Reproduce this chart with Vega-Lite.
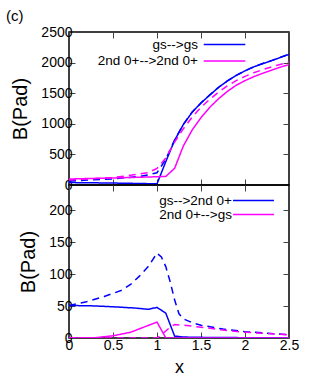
{
  "$schema": "https://vega.github.io/schema/vega-lite/v6.json",
  "padding": {"left": 6, "top": 9, "right": 5, "bottom": 5},
  "title": {"text": "(c)", "anchor": "start", "frame": "bounds", "fontSize": 15, "font": "Liberation Sans", "fontWeight": "normal", "offset": 0, "dx": -4},
  "config": {
    "view": {"stroke": "black", "strokeWidth": 1.5},
    "axis": {"labelFont": "Liberation Sans", "labelFontSize": 14, "labelColor": "black", "titleFont": "Liberation Sans", "titleFontWeight": "normal", "titleColor": "black", "domain": false, "grid": false, "tickColor": "#444", "tickWidth": 1, "tickSize": -6},
    "legend": {"labelFont": "Liberation Sans", "labelColor": "black"}
  },
  "datasets": {
    "top": [
      {"series": "gs-->gs", "style": "solid", "x": 0, "y": 40},
      {"series": "gs-->gs", "style": "solid", "x": 0.5, "y": 32},
      {"series": "gs-->gs", "style": "solid", "x": 0.9, "y": 22},
      {"series": "gs-->gs", "style": "solid", "x": 1.0, "y": 18},
      {"series": "gs-->gs", "style": "solid", "x": 1.1, "y": 382},
      {"series": "gs-->gs", "style": "solid", "x": 1.2, "y": 730},
      {"series": "gs-->gs", "style": "solid", "x": 1.3, "y": 990},
      {"series": "gs-->gs", "style": "solid", "x": 1.4, "y": 1190},
      {"series": "gs-->gs", "style": "solid", "x": 1.5, "y": 1340},
      {"series": "gs-->gs", "style": "solid", "x": 1.6, "y": 1470},
      {"series": "gs-->gs", "style": "solid", "x": 1.7, "y": 1595},
      {"series": "gs-->gs", "style": "solid", "x": 1.8, "y": 1700},
      {"series": "gs-->gs", "style": "solid", "x": 1.9, "y": 1790},
      {"series": "gs-->gs", "style": "solid", "x": 2.0, "y": 1865},
      {"series": "gs-->gs", "style": "solid", "x": 2.1, "y": 1930},
      {"series": "gs-->gs", "style": "solid", "x": 2.2, "y": 1982},
      {"series": "gs-->gs", "style": "solid", "x": 2.3, "y": 2030},
      {"series": "gs-->gs", "style": "solid", "x": 2.4, "y": 2083},
      {"series": "gs-->gs", "style": "solid", "x": 2.5, "y": 2135},
      {"series": "gs-->gs", "style": "dashed", "x": 0, "y": 65},
      {"series": "gs-->gs", "style": "dashed", "x": 0.5, "y": 100},
      {"series": "gs-->gs", "style": "dashed", "x": 0.8, "y": 140},
      {"series": "gs-->gs", "style": "dashed", "x": 0.9, "y": 165},
      {"series": "gs-->gs", "style": "dashed", "x": 1.0, "y": 200},
      {"series": "gs-->gs", "style": "dashed", "x": 1.1, "y": 420},
      {"series": "gs-->gs", "style": "dashed", "x": 1.2, "y": 735},
      {"series": "gs-->gs", "style": "dashed", "x": 1.3, "y": 992},
      {"series": "gs-->gs", "style": "dashed", "x": 1.4, "y": 1192},
      {"series": "gs-->gs", "style": "dashed", "x": 1.5, "y": 1342},
      {"series": "gs-->gs", "style": "dashed", "x": 1.6, "y": 1472},
      {"series": "gs-->gs", "style": "dashed", "x": 1.7, "y": 1597},
      {"series": "gs-->gs", "style": "dashed", "x": 1.8, "y": 1702},
      {"series": "gs-->gs", "style": "dashed", "x": 1.9, "y": 1792},
      {"series": "gs-->gs", "style": "dashed", "x": 2.0, "y": 1867},
      {"series": "gs-->gs", "style": "dashed", "x": 2.1, "y": 1932},
      {"series": "gs-->gs", "style": "dashed", "x": 2.2, "y": 1984},
      {"series": "gs-->gs", "style": "dashed", "x": 2.3, "y": 2032},
      {"series": "gs-->gs", "style": "dashed", "x": 2.4, "y": 2085},
      {"series": "gs-->gs", "style": "dashed", "x": 2.5, "y": 2137},
      {"series": "2nd 0+-->2nd 0+", "style": "solid", "x": 0, "y": 98},
      {"series": "2nd 0+-->2nd 0+", "style": "solid", "x": 0.5, "y": 115},
      {"series": "2nd 0+-->2nd 0+", "style": "solid", "x": 1.0, "y": 135},
      {"series": "2nd 0+-->2nd 0+", "style": "solid", "x": 1.1, "y": 140},
      {"series": "2nd 0+-->2nd 0+", "style": "solid", "x": 1.2, "y": 272},
      {"series": "2nd 0+-->2nd 0+", "style": "solid", "x": 1.3, "y": 640},
      {"series": "2nd 0+-->2nd 0+", "style": "solid", "x": 1.4, "y": 900},
      {"series": "2nd 0+-->2nd 0+", "style": "solid", "x": 1.5, "y": 1100},
      {"series": "2nd 0+-->2nd 0+", "style": "solid", "x": 1.6, "y": 1270},
      {"series": "2nd 0+-->2nd 0+", "style": "solid", "x": 1.7, "y": 1410},
      {"series": "2nd 0+-->2nd 0+", "style": "solid", "x": 1.8, "y": 1530},
      {"series": "2nd 0+-->2nd 0+", "style": "solid", "x": 1.9, "y": 1630},
      {"series": "2nd 0+-->2nd 0+", "style": "solid", "x": 2.0, "y": 1705},
      {"series": "2nd 0+-->2nd 0+", "style": "solid", "x": 2.1, "y": 1770},
      {"series": "2nd 0+-->2nd 0+", "style": "solid", "x": 2.2, "y": 1825},
      {"series": "2nd 0+-->2nd 0+", "style": "solid", "x": 2.3, "y": 1875},
      {"series": "2nd 0+-->2nd 0+", "style": "solid", "x": 2.4, "y": 1925},
      {"series": "2nd 0+-->2nd 0+", "style": "solid", "x": 2.5, "y": 1968},
      {"series": "2nd 0+-->2nd 0+", "style": "dashed", "x": 0, "y": 82},
      {"series": "2nd 0+-->2nd 0+", "style": "dashed", "x": 0.5, "y": 120},
      {"series": "2nd 0+-->2nd 0+", "style": "dashed", "x": 0.9, "y": 200},
      {"series": "2nd 0+-->2nd 0+", "style": "dashed", "x": 1.0, "y": 272},
      {"series": "2nd 0+-->2nd 0+", "style": "dashed", "x": 1.1, "y": 440},
      {"series": "2nd 0+-->2nd 0+", "style": "dashed", "x": 1.2, "y": 700},
      {"series": "2nd 0+-->2nd 0+", "style": "dashed", "x": 1.3, "y": 920},
      {"series": "2nd 0+-->2nd 0+", "style": "dashed", "x": 1.4, "y": 1110},
      {"series": "2nd 0+-->2nd 0+", "style": "dashed", "x": 1.5, "y": 1270},
      {"series": "2nd 0+-->2nd 0+", "style": "dashed", "x": 1.6, "y": 1400},
      {"series": "2nd 0+-->2nd 0+", "style": "dashed", "x": 1.7, "y": 1520},
      {"series": "2nd 0+-->2nd 0+", "style": "dashed", "x": 1.8, "y": 1620},
      {"series": "2nd 0+-->2nd 0+", "style": "dashed", "x": 1.9, "y": 1705},
      {"series": "2nd 0+-->2nd 0+", "style": "dashed", "x": 2.0, "y": 1775},
      {"series": "2nd 0+-->2nd 0+", "style": "dashed", "x": 2.1, "y": 1835},
      {"series": "2nd 0+-->2nd 0+", "style": "dashed", "x": 2.2, "y": 1885},
      {"series": "2nd 0+-->2nd 0+", "style": "dashed", "x": 2.3, "y": 1930},
      {"series": "2nd 0+-->2nd 0+", "style": "dashed", "x": 2.4, "y": 1970},
      {"series": "2nd 0+-->2nd 0+", "style": "dashed", "x": 2.5, "y": 2010}
    ],
    "bottom": [
      {"series": "gs-->2nd 0+", "style": "solid", "x": 0, "y": 51},
      {"series": "gs-->2nd 0+", "style": "solid", "x": 0.25, "y": 50.5},
      {"series": "gs-->2nd 0+", "style": "solid", "x": 0.5, "y": 49},
      {"series": "gs-->2nd 0+", "style": "solid", "x": 0.75, "y": 47},
      {"series": "gs-->2nd 0+", "style": "solid", "x": 0.9, "y": 45},
      {"series": "gs-->2nd 0+", "style": "solid", "x": 1.0, "y": 48},
      {"series": "gs-->2nd 0+", "style": "solid", "x": 1.1, "y": 39},
      {"series": "gs-->2nd 0+", "style": "solid", "x": 1.2, "y": 3},
      {"series": "gs-->2nd 0+", "style": "solid", "x": 1.3, "y": 1.5},
      {"series": "gs-->2nd 0+", "style": "solid", "x": 1.5, "y": 1},
      {"series": "gs-->2nd 0+", "style": "solid", "x": 2.0, "y": 0.5},
      {"series": "gs-->2nd 0+", "style": "solid", "x": 2.5, "y": 0.3},
      {"series": "gs-->2nd 0+", "style": "dashed", "x": 0, "y": 51},
      {"series": "gs-->2nd 0+", "style": "dashed", "x": 0.2, "y": 57},
      {"series": "gs-->2nd 0+", "style": "dashed", "x": 0.4, "y": 65},
      {"series": "gs-->2nd 0+", "style": "dashed", "x": 0.6, "y": 75},
      {"series": "gs-->2nd 0+", "style": "dashed", "x": 0.7, "y": 84},
      {"series": "gs-->2nd 0+", "style": "dashed", "x": 0.8, "y": 97},
      {"series": "gs-->2nd 0+", "style": "dashed", "x": 0.9, "y": 112},
      {"series": "gs-->2nd 0+", "style": "dashed", "x": 1.0, "y": 133},
      {"series": "gs-->2nd 0+", "style": "dashed", "x": 1.05, "y": 127},
      {"series": "gs-->2nd 0+", "style": "dashed", "x": 1.1, "y": 112},
      {"series": "gs-->2nd 0+", "style": "dashed", "x": 1.15, "y": 88},
      {"series": "gs-->2nd 0+", "style": "dashed", "x": 1.2, "y": 60},
      {"series": "gs-->2nd 0+", "style": "dashed", "x": 1.25, "y": 38},
      {"series": "gs-->2nd 0+", "style": "dashed", "x": 1.3, "y": 30},
      {"series": "gs-->2nd 0+", "style": "dashed", "x": 1.4, "y": 24},
      {"series": "gs-->2nd 0+", "style": "dashed", "x": 1.5, "y": 20},
      {"series": "gs-->2nd 0+", "style": "dashed", "x": 1.75, "y": 14},
      {"series": "gs-->2nd 0+", "style": "dashed", "x": 2.0, "y": 10},
      {"series": "gs-->2nd 0+", "style": "dashed", "x": 2.25, "y": 7.5},
      {"series": "gs-->2nd 0+", "style": "dashed", "x": 2.5, "y": 5},
      {"series": "2nd 0+-->gs", "style": "solid", "x": 0, "y": 0},
      {"series": "2nd 0+-->gs", "style": "solid", "x": 0.3, "y": 0.5},
      {"series": "2nd 0+-->gs", "style": "solid", "x": 0.5, "y": 3.5},
      {"series": "2nd 0+-->gs", "style": "solid", "x": 0.7, "y": 9},
      {"series": "2nd 0+-->gs", "style": "solid", "x": 0.85, "y": 17},
      {"series": "2nd 0+-->gs", "style": "solid", "x": 1.0, "y": 25},
      {"series": "2nd 0+-->gs", "style": "solid", "x": 1.1, "y": 0},
      {"series": "2nd 0+-->gs", "style": "solid", "x": 1.5, "y": 0},
      {"series": "2nd 0+-->gs", "style": "solid", "x": 2.0, "y": 0},
      {"series": "2nd 0+-->gs", "style": "solid", "x": 2.5, "y": 0},
      {"series": "2nd 0+-->gs", "style": "dashed", "x": 0, "y": 0},
      {"series": "2nd 0+-->gs", "style": "dashed", "x": 0.5, "y": 0},
      {"series": "2nd 0+-->gs", "style": "dashed", "x": 1.0, "y": 0},
      {"series": "2nd 0+-->gs", "style": "dashed", "x": 1.05, "y": 5},
      {"series": "2nd 0+-->gs", "style": "dashed", "x": 1.1, "y": 11},
      {"series": "2nd 0+-->gs", "style": "dashed", "x": 1.15, "y": 17},
      {"series": "2nd 0+-->gs", "style": "dashed", "x": 1.2, "y": 21},
      {"series": "2nd 0+-->gs", "style": "dashed", "x": 1.3, "y": 20},
      {"series": "2nd 0+-->gs", "style": "dashed", "x": 1.5, "y": 17},
      {"series": "2nd 0+-->gs", "style": "dashed", "x": 1.75, "y": 12.5},
      {"series": "2nd 0+-->gs", "style": "dashed", "x": 2.0, "y": 9},
      {"series": "2nd 0+-->gs", "style": "dashed", "x": 2.25, "y": 7},
      {"series": "2nd 0+-->gs", "style": "dashed", "x": 2.5, "y": 5}
    ]
  },
  "spacing": 0,
  "bounds": "flush",
  "resolve": {"scale": {"color": "independent", "strokeDash": "independent"}, "legend": {"color": "independent"}},
  "vconcat": [
    {
      "width": 220, "height": 153,
      "data": {"name": "top"},
      "resolve": {"axis": {"x": "independent", "y": "independent"}},
      "layer": [
        {
          "mark": {"type": "line", "strokeWidth": 1.5, "clip": true},
          "encoding": {
            "x": {"field": "x", "type": "quantitative", "scale": {"domain": [0, 2.5], "nice": false, "zero": false},
                  "axis": {"orient": "bottom", "values": [0, 0.5, 1, 1.5, 2, 2.5], "labels": false, "title": null, "minExtent": 0, "maxExtent": 0}},
            "y": {"field": "y", "type": "quantitative", "scale": {"domain": [0, 2500], "nice": false},
                  "axis": {"orient": "left", "values": [0, 500, 1000, 1500, 2000, 2500], "format": "d", "title": "B(Pad)", "titleFontSize": 20, "labelPadding": 3, "titlePadding": 10}},
            "color": {"field": "series", "type": "nominal",
                      "scale": {"domain": ["gs-->gs", "2nd 0+-->2nd 0+"], "range": ["#0000ff", "#ff00ff"]},
                      "legend": {"orient": "none", "legendX": 148, "legendY": 5, "title": null, "symbolType": "M-3.2,0L3.2,0", "symbolSize": 169, "symbolStrokeWidth": 1.5, "labelAlign": "right", "labelOffset": -34, "labelFontSize": 13.5, "rowPadding": 2.5, "padding": 0}},
            "strokeDash": {"field": "style", "type": "nominal", "scale": {"domain": ["solid", "dashed"], "range": [[1, 0], [7, 5]]}, "legend": null}
          }
        },
        {
          "mark": {"type": "line", "opacity": 0},
          "encoding": {
            "x": {"field": "x", "type": "quantitative", "axis": {"orient": "top", "values": [0, 0.5, 1, 1.5, 2, 2.5], "labels": false, "title": null, "minExtent": 0, "maxExtent": 0}},
            "y": {"field": "y", "type": "quantitative", "axis": {"orient": "right", "values": [0, 500, 1000, 1500, 2000, 2500], "labels": false, "title": null, "minExtent": 0, "maxExtent": 0}},
            "detail": {"field": "series"}
          }
        }
      ]
    },
    {
      "width": 220, "height": 153,
      "data": {"name": "bottom"},
      "resolve": {"axis": {"x": "independent", "y": "independent"}},
      "layer": [
        {
          "mark": {"type": "line", "strokeWidth": 1.5, "clip": true},
          "encoding": {
            "x": {"field": "x", "type": "quantitative", "scale": {"domain": [0, 2.5], "nice": false, "zero": false},
                  "axis": {"orient": "bottom", "values": [0, 0.5, 1, 1.5, 2, 2.5], "format": ".1~f", "title": "x", "titleFontSize": 18, "labelPadding": 6, "titlePadding": 6, "labelFlush": false}},
            "y": {"field": "y", "type": "quantitative", "scale": {"domain": [0, 240], "nice": false},
                  "axis": {"orient": "left", "values": [0, 50, 100, 150, 200], "format": "d", "title": "B(Pad)", "titleFontSize": 20, "labelPadding": 3, "titlePadding": 10}},
            "color": {"field": "series", "type": "nominal",
                      "scale": {"domain": ["gs-->2nd 0+", "2nd 0+-->gs"], "range": ["#0000ff", "#ff00ff"]},
                      "legend": {"orient": "none", "legendX": 177, "legendY": 8, "title": null, "symbolType": "M-3.15,0L3.15,0", "symbolSize": 169, "symbolStrokeWidth": 1.5, "labelAlign": "right", "labelOffset": -29, "labelFontSize": 13.5, "rowPadding": 0, "padding": 0}},
            "strokeDash": {"field": "style", "type": "nominal", "scale": {"domain": ["solid", "dashed"], "range": [[1, 0], [7, 5]]}, "legend": null}
          }
        },
        {
          "mark": {"type": "line", "opacity": 0},
          "encoding": {
            "x": {"field": "x", "type": "quantitative", "axis": {"orient": "top", "values": [0, 0.5, 1, 1.5, 2, 2.5], "labels": false, "title": null, "minExtent": 0, "maxExtent": 0}},
            "y": {"field": "y", "type": "quantitative", "axis": {"orient": "right", "values": [0, 50, 100, 150, 200], "labels": false, "title": null, "minExtent": 0, "maxExtent": 0}},
            "detail": {"field": "series"}
          }
        }
      ]
    }
  ]
}
